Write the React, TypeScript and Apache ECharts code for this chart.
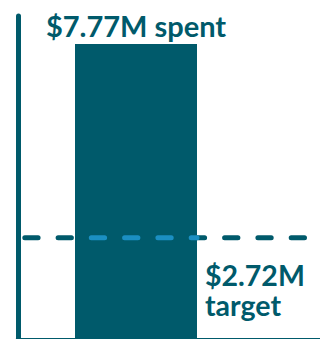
import React, { useEffect, useRef } from "react";
import * as echarts from "echarts";

// Data
const spentValues = [7.77];
const spentLabels = ["spent"];
const targetValues = [2.72];
const targetLabels = ["target"];

// Layout constants (pixels from the grid's left edge)
const BAR_X = 117.5;
const BAR_WIDTH = 122;
const LINE_START = 6.3;
const LINE_END = 286.5;
const TARGET_LABEL_X = 186.5;
const DASH = 13.3;
const GAP = 20;

const TEAL = "#005a6b";
const LIGHT = "#1b8fc2";

export default function App() {
  const ref = useRef<HTMLDivElement>(null);
  useEffect(() => {
    document.body.style.margin = "0";
    const chart = echarts.init(ref.current!, undefined, { renderer: "svg" });
    const spent = spentValues[0];
    const target = targetValues[0];
    const barLeft = BAR_X - BAR_WIDTH / 2;
    const barRight = BAR_X + BAR_WIDTH / 2;
    const period = DASH + GAP;
    const offset = (barLeft - LINE_START) % period;
    chart.setOption({
      animation: false,
      grid: { left: 18.5, top: 16, width: 301.5, height: 326, outerBoundsMode: "none", containLabel: false },
      xAxis: {
        type: "value",
        min: 0,
        max: 301.5,
        axisLine: { show: true, onZero: true, lineStyle: { color: TEAL, width: 8 } },
        axisTick: { show: false },
        axisLabel: { show: false },
        splitLine: { show: false },
      },
      yAxis: {
        type: "value",
        min: 0,
        max: 8.5,
        axisLine: { show: true, lineStyle: { color: TEAL, width: 5, cap: "round" } },
        axisTick: { show: false },
        axisLabel: { show: false },
        splitLine: { show: false },
      },
      series: [
        {
          type: "line",
          data: [
            [LINE_START, target],
            [LINE_END, target],
          ],
          symbol: "none",
          z: 1,
          lineStyle: { color: TEAL, width: 5, type: [DASH, GAP], cap: "round" },
          markPoint: {
            symbol: "circle",
            symbolSize: 0,
            data: [
              {
                coord: [TARGET_LABEL_X, target],
                label: {
                  show: true,
                  position: [0, 22],
                  align: "left",
                  verticalAlign: "top",
                  formatter: `$${target.toFixed(2)}M\n${targetLabels[0]}`,
                  fontFamily: "Lato",
                  fontWeight: "bold",
                  fontSize: 28.5,
                  lineHeight: 30,
                  color: TEAL,
                },
              },
            ],
          },
        },
        {
          type: "bar",
          data: [[BAR_X, spent]],
          barWidth: BAR_WIDTH,
          z: 2,
          itemStyle: { color: TEAL },
          label: {
            show: true,
            position: "top",
            distance: 4,
            formatter: `$${spent.toFixed(2)}M ${spentLabels[0]}`,
            fontFamily: "Lato",
            fontWeight: "bold",
            fontSize: 29,
            color: TEAL,
          },
        },
        {
          type: "line",
          data: [
            [barLeft, target],
            [barRight, target],
          ],
          symbol: "none",
          z: 3,
          lineStyle: { color: LIGHT, width: 5, type: [DASH, GAP], dashOffset: offset, cap: "round" },
        },
      ],
    });
    return () => chart.dispose();
  }, []);
  return <div ref={ref} style={{ width: 320, height: 339 }} />;
}
